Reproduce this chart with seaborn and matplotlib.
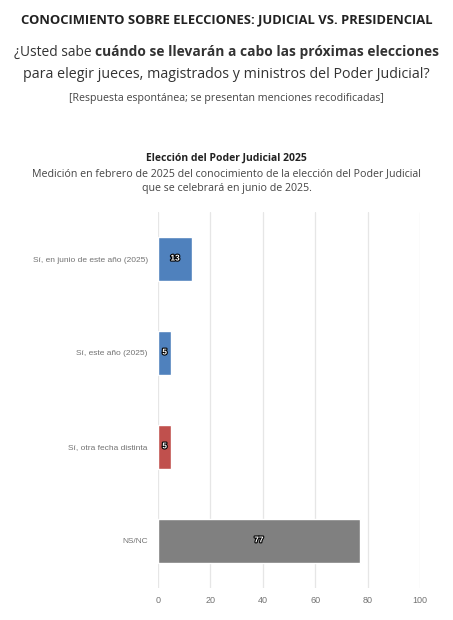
import pandas as pd
import matplotlib.pyplot as plt
import matplotlib.patheffects as pe
import seaborn as sns

# data
categorias = ["Sí, en junio de este año (2025)", "Sí, este año (2025)",
              "Sí, otra fecha distinta", "NS/NC"]
valores = [13, 5, 5, 77]
colores = ["#4F81BD", "#4F81BD", "#C0504D", "#808080"]
ticks_x = [0, 20, 40, 60, 80, 100]

df = pd.DataFrame({"categoria": categorias, "valor": valores})

sns.set_style("white")
plt.rcParams["font.family"] = ["Open Sans", "DejaVu Sans"]

fig = plt.figure(figsize=(4.53, 6.2), dpi=100)
ax = fig.add_axes([0.349, 0.052, 0.578, 0.606])

sns.barplot(data=df, y="categoria", x="valor", hue="categoria",
            palette=colores, legend=False, width=0.47, saturation=1, ax=ax)

for p, v in zip(ax.patches, valores):
    ax.text(p.get_x() + p.get_width() / 2, p.get_y() + p.get_height() / 2, str(v),
            ha="center", va="center", fontsize=6, fontweight="bold",
            color="white", family="Liberation Sans",
            path_effects=[pe.withStroke(linewidth=1.6, foreground="black")])

ax.set_xlim(0, 100)
ax.set_ylim(3.5, -0.5)
ax.set_xticks(ticks_x)
ax.grid(axis="x", color="#e6e6e6", linewidth=0.9)
ax.set_axisbelow(True)
sns.despine(ax=ax, left=True, bottom=True)
ax.set_xlabel("")
ax.set_ylabel("")
ax.tick_params(length=0, labelcolor="#737373")
ax.tick_params(axis="y", pad=7.5, labelsize=6.0)
ax.tick_params(axis="x", pad=6, labelsize=6.5)
for t in ax.get_xticklabels() + ax.get_yticklabels():
    t.set_family("Liberation Sans")

# header texts
fig.text(0.5, 1 - 19.5 / 620, "CONOCIMIENTO SOBRE ELECCIONES: JUDICIAL VS. PRESIDENCIAL",
         ha="center", va="center", fontsize=9.4, fontweight="bold", color="#222222")

# question line with bold part
r = fig.canvas.get_renderer()
y1 = 1 - 52 / 620
t1 = fig.text(0, y1, "¿Usted sabe ", ha="left", va="center", fontsize=9.9, color="#333333")
t2 = fig.text(0, y1, "cuándo se llevarán a cabo las próximas elecciones", ha="left",
              va="center", fontsize=9.9, fontweight="bold", color="#333333")
w1 = t1.get_window_extent(r).width
w2 = t2.get_window_extent(r).width
W = fig.bbox.width
x0 = (W - w1 - w2) / 2
t1.set_x(x0 / W)
t2.set_x((x0 + w1) / W)

fig.text(0.5, 1 - 74 / 620, "para elegir jueces, magistrados y ministros del Poder Judicial?",
         ha="center", va="center", fontsize=10.3, color="#333333")
fig.text(0.5, 1 - 98 / 620, "[Respuesta espontánea; se presentan menciones recodificadas]",
         ha="center", va="center", fontsize=7.7, color="#444444")

fig.text(0.5, 1 - 158 / 620, "Elección del Poder Judicial 2025",
         ha="center", va="center", fontsize=7.5, fontweight="bold", color="#222222")
fig.text(0.5, 1 - 173.5 / 620, "Medición en febrero de 2025 del conocimiento de la elección del Poder Judicial",
         ha="center", va="center", fontsize=7.7, color="#444444")
fig.text(0.5, 1 - 188.5 / 620, "que se celebrará en junio de 2025.",
         ha="center", va="center", fontsize=7.7, color="#444444")

fig.savefig("out.png", dpi=100, facecolor="white")
